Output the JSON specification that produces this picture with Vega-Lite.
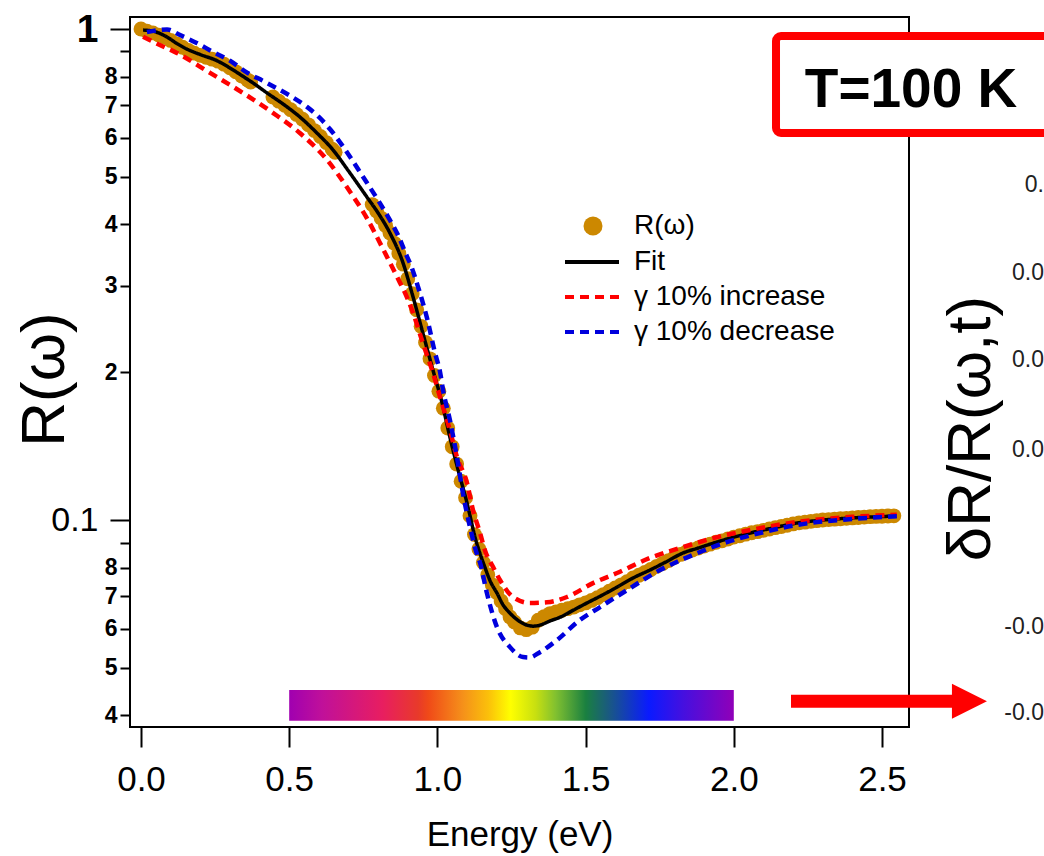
{
  "$schema": "https://vega.github.io/schema/vega-lite/v6.json",
  "autosize": {"type": "none"},
  "width": 779,
  "height": 710,
  "padding": {"left": 130, "top": 17, "right": 135, "bottom": 129},
  "background": "white",
  "config": {
    "view": {"stroke": "black", "strokeWidth": 2},
    "font": "Liberation Sans",
    "axis": {"grid": false, "domain": false},
    "legend": {
      "orient": "none", "title": null, "labelLimit": 0, "padding": 0,
      "labelFont": "Liberation Sans", "labelFontSize": 28, "labelColor": "black"
    }
  },
  "datasets": {
    "obs": [
      {"E":0.00,"R":1.000},{"E":0.02,"R":0.990},{"E":0.04,"R":0.982},{"E":0.06,"R":0.972},{"E":0.08,"R":0.962},{"E":0.10,"R":0.948},{"E":0.12,"R":0.933},{"E":0.14,"R":0.918},{"E":0.16,"R":0.904},{"E":0.18,"R":0.893},{"E":0.20,"R":0.884},{"E":0.22,"R":0.876},{"E":0.24,"R":0.868},{"E":0.26,"R":0.860},{"E":0.28,"R":0.848},{"E":0.30,"R":0.834},{"E":0.32,"R":0.818},{"E":0.34,"R":0.802},{"E":0.36,"R":0.787},{"E":0.37,"R":0.780},
      {"E":0.445,"R":0.727},{"E":0.465,"R":0.713},{"E":0.485,"R":0.699},{"E":0.505,"R":0.685},{"E":0.525,"R":0.670},{"E":0.545,"R":0.655},{"E":0.565,"R":0.638},{"E":0.585,"R":0.621},{"E":0.605,"R":0.604},{"E":0.625,"R":0.587},{"E":0.645,"R":0.569},{"E":0.655,"R":0.561},
      {"E":0.78,"R":0.439},{"E":0.795,"R":0.426},{"E":0.81,"R":0.412},{"E":0.825,"R":0.398},{"E":0.84,"R":0.384},{"E":0.855,"R":0.366},{"E":0.87,"R":0.349},{"E":0.885,"R":0.332},{"E":0.90,"R":0.310},{"E":0.915,"R":0.289},{"E":0.93,"R":0.268},{"E":0.945,"R":0.248},{"E":0.96,"R":0.230},{"E":0.975,"R":0.213},{"E":0.99,"R":0.197},{"E":1.005,"R":0.183},{"E":1.02,"R":0.169},{"E":1.035,"R":0.154},{"E":1.05,"R":0.141},{"E":1.065,"R":0.130},{"E":1.08,"R":0.120},{"E":1.095,"R":0.111},{"E":1.11,"R":0.102},{"E":1.125,"R":0.0934},{"E":1.14,"R":0.0873},{"E":1.155,"R":0.0819},{"E":1.17,"R":0.0774},{"E":1.185,"R":0.0738},{"E":1.20,"R":0.0712},{"E":1.215,"R":0.0684},{"E":1.23,"R":0.0660},{"E":1.245,"R":0.0635},{"E":1.26,"R":0.0620},{"E":1.28,"R":0.0603},{"E":1.30,"R":0.0598},{"E":1.32,"R":0.0605},{"E":1.34,"R":0.0625},{"E":1.36,"R":0.0636},{"E":1.38,"R":0.0645},{"E":1.40,"R":0.0650},{"E":1.42,"R":0.0655},{"E":1.44,"R":0.0660},{"E":1.46,"R":0.0665},{"E":1.48,"R":0.0672},{"E":1.50,"R":0.0678},
      {"E":1.52,"R":0.0686},{"E":1.54,"R":0.0695},{"E":1.56,"R":0.0705},{"E":1.58,"R":0.0716},{"E":1.60,"R":0.0727},{"E":1.62,"R":0.0738},{"E":1.64,"R":0.0749},{"E":1.66,"R":0.0762},{"E":1.68,"R":0.0772},{"E":1.70,"R":0.0782},{"E":1.72,"R":0.0793},{"E":1.74,"R":0.0805},{"E":1.76,"R":0.0816},{"E":1.78,"R":0.0827},{"E":1.80,"R":0.0840},{"E":1.82,"R":0.0851},{"E":1.84,"R":0.0861},{"E":1.86,"R":0.0869},{"E":1.88,"R":0.0877},{"E":1.90,"R":0.0885},{"E":1.92,"R":0.0893},{"E":1.94,"R":0.0901},{"E":1.96,"R":0.0907},{"E":1.98,"R":0.0915},{"E":2.00,"R":0.0923},{"E":2.02,"R":0.0929},{"E":2.04,"R":0.0936},{"E":2.06,"R":0.0942},{"E":2.08,"R":0.0947},{"E":2.10,"R":0.0953},{"E":2.12,"R":0.0959},{"E":2.14,"R":0.0965},{"E":2.16,"R":0.0970},{"E":2.18,"R":0.0976},{"E":2.20,"R":0.0982},{"E":2.22,"R":0.0987},{"E":2.24,"R":0.0990},{"E":2.26,"R":0.0994},{"E":2.28,"R":0.0997},{"E":2.30,"R":0.1000},{"E":2.32,"R":0.1002},{"E":2.34,"R":0.1004},{"E":2.36,"R":0.1006},{"E":2.38,"R":0.1008},{"E":2.40,"R":0.1010},{"E":2.42,"R":0.1012},{"E":2.44,"R":0.1014},{"E":2.46,"R":0.1016},{"E":2.48,"R":0.1017},{"E":2.50,"R":0.1018},{"E":2.52,"R":0.1019},{"E":2.54,"R":0.1020}
    ],
    "fit": [
      {"E":0.007,"R":0.995},{"E":0.04,"R":0.99},{"E":0.088,"R":0.963},{"E":0.12,"R":0.935},{"E":0.155,"R":0.91},{"E":0.2,"R":0.887},{"E":0.256,"R":0.862},{"E":0.3,"R":0.833},{"E":0.344,"R":0.801},{"E":0.38,"R":0.775},{"E":0.425,"R":0.741},{"E":0.48,"R":0.703},{"E":0.536,"R":0.662},{"E":0.59,"R":0.617},{"E":0.648,"R":0.567},{"E":0.7,"R":0.514},{"E":0.762,"R":0.455},{"E":0.8,"R":0.422},{"E":0.84,"R":0.384},{"E":0.884,"R":0.334},{"E":0.918,"R":0.2845},{"E":0.951,"R":0.2403},{"E":0.985,"R":0.202},{"E":1.016,"R":0.173},{"E":1.042,"R":0.1476},{"E":1.07,"R":0.1264},{"E":1.10,"R":0.1083},{"E":1.127,"R":0.0923},{"E":1.16,"R":0.0802},{"E":1.18,"R":0.0747},{"E":1.201,"R":0.0710},{"E":1.22,"R":0.0674},{"E":1.245,"R":0.0646},{"E":1.27,"R":0.0626},{"E":1.302,"R":0.0611},{"E":1.325,"R":0.0608},{"E":1.346,"R":0.0611},{"E":1.38,"R":0.0623},{"E":1.414,"R":0.0634},{"E":1.46,"R":0.0656},{"E":1.505,"R":0.0678},{"E":1.55,"R":0.0700},{"E":1.606,"R":0.0730},{"E":1.66,"R":0.0762},{"E":1.717,"R":0.0791},{"E":1.77,"R":0.0821},{"E":1.829,"R":0.0857},{"E":1.88,"R":0.0877},{"E":1.943,"R":0.0902},{"E":2.0,"R":0.0923},{"E":2.055,"R":0.0941},{"E":2.13,"R":0.0963},{"E":2.213,"R":0.0986},{"E":2.3,"R":0.1000},{"E":2.4,"R":0.1010},{"E":2.55,"R":0.1019}
    ],
    "gamma": [
      {"series":"γ 10% increase","E":0.007,"R":0.964},{"series":"γ 10% increase","E":0.06,"R":0.93},{"series":"γ 10% increase","E":0.121,"R":0.894},{"series":"γ 10% increase","E":0.233,"R":0.814},{"series":"γ 10% increase","E":0.344,"R":0.741},{"series":"γ 10% increase","E":0.445,"R":0.675},{"series":"γ 10% increase","E":0.536,"R":0.614},{"series":"γ 10% increase","E":0.628,"R":0.541},{"series":"γ 10% increase","E":0.695,"R":0.476},{"series":"γ 10% increase","E":0.762,"R":0.412},{"series":"γ 10% increase","E":0.816,"R":0.357},{"series":"γ 10% increase","E":0.864,"R":0.3126},{"series":"γ 10% increase","E":0.897,"R":0.2845},{"series":"γ 10% increase","E":0.918,"R":0.264},{"series":"γ 10% increase","E":0.951,"R":0.2293},{"series":"γ 10% increase","E":0.982,"R":0.202},{"series":"γ 10% increase","E":1.009,"R":0.178},{"series":"γ 10% increase","E":1.042,"R":0.1525},{"series":"γ 10% increase","E":1.066,"R":0.1344},{"series":"γ 10% increase","E":1.10,"R":0.119},{"series":"γ 10% increase","E":1.12,"R":0.1048},{"series":"γ 10% increase","E":1.144,"R":0.0941},{"series":"γ 10% increase","E":1.16,"R":0.0869},{"series":"γ 10% increase","E":1.188,"R":0.0802},{"series":"γ 10% increase","E":1.211,"R":0.0755},{"series":"γ 10% increase","E":1.255,"R":0.0697},{"series":"γ 10% increase","E":1.312,"R":0.0678},{"series":"γ 10% increase","E":1.37,"R":0.0680},{"series":"γ 10% increase","E":1.437,"R":0.0697},{"series":"γ 10% increase","E":1.525,"R":0.0744},{"series":"γ 10% increase","E":1.606,"R":0.0780},{"series":"γ 10% increase","E":1.717,"R":0.0837},{"series":"γ 10% increase","E":1.829,"R":0.0881},{"series":"γ 10% increase","E":1.943,"R":0.0923},{"series":"γ 10% increase","E":2.055,"R":0.0954},{"series":"γ 10% increase","E":2.213,"R":0.0991},{"series":"γ 10% increase","E":2.4,"R":0.1015},{"series":"γ 10% increase","E":2.55,"R":0.1025},
      {"series":"γ 10% decrease","E":0.02,"R":0.986},{"series":"γ 10% decrease","E":0.088,"R":0.998},{"series":"γ 10% decrease","E":0.132,"R":0.972},{"series":"γ 10% decrease","E":0.19,"R":0.935},{"series":"γ 10% decrease","E":0.243,"R":0.898},{"series":"γ 10% decrease","E":0.30,"R":0.862},{"series":"γ 10% decrease","E":0.358,"R":0.815},{"series":"γ 10% decrease","E":0.41,"R":0.785},{"series":"γ 10% decrease","E":0.459,"R":0.757},{"series":"γ 10% decrease","E":0.51,"R":0.727},{"series":"γ 10% decrease","E":0.56,"R":0.694},{"series":"γ 10% decrease","E":0.60,"R":0.662},{"series":"γ 10% decrease","E":0.638,"R":0.625},{"series":"γ 10% decrease","E":0.681,"R":0.577},{"series":"γ 10% decrease","E":0.749,"R":0.500},{"series":"γ 10% decrease","E":0.806,"R":0.442},{"series":"γ 10% decrease","E":0.84,"R":0.408},{"series":"γ 10% decrease","E":0.867,"R":0.3805},{"series":"γ 10% decrease","E":0.891,"R":0.3513},{"series":"γ 10% decrease","E":0.914,"R":0.326},{"series":"γ 10% decrease","E":0.935,"R":0.298},{"series":"γ 10% decrease","E":0.965,"R":0.2578},{"series":"γ 10% decrease","E":0.992,"R":0.2188},{"series":"γ 10% decrease","E":1.009,"R":0.2001},{"series":"γ 10% decrease","E":1.019,"R":0.184},{"series":"γ 10% decrease","E":1.042,"R":0.160},{"series":"γ 10% decrease","E":1.066,"R":0.1344},{"series":"γ 10% decrease","E":1.086,"R":0.1135},{"series":"γ 10% decrease","E":1.11,"R":0.0967},{"series":"γ 10% decrease","E":1.134,"R":0.0850},{"series":"γ 10% decrease","E":1.144,"R":0.0818},{"series":"γ 10% decrease","E":1.167,"R":0.0710},{"series":"γ 10% decrease","E":1.201,"R":0.0605},{"series":"γ 10% decrease","E":1.245,"R":0.0551},{"series":"γ 10% decrease","E":1.289,"R":0.0526},{"series":"γ 10% decrease","E":1.31,"R":0.0525},{"series":"γ 10% decrease","E":1.346,"R":0.0538},{"series":"γ 10% decrease","E":1.404,"R":0.0570},{"series":"γ 10% decrease","E":1.481,"R":0.0626},{"series":"γ 10% decrease","E":1.549,"R":0.0665},{"series":"γ 10% decrease","E":1.64,"R":0.0720},{"series":"γ 10% decrease","E":1.751,"R":0.0791},{"series":"γ 10% decrease","E":1.862,"R":0.0849},{"series":"γ 10% decrease","E":1.977,"R":0.0902},{"series":"γ 10% decrease","E":2.088,"R":0.0941},{"series":"γ 10% decrease","E":2.213,"R":0.0977},{"series":"γ 10% decrease","E":2.4,"R":0.1005},{"series":"γ 10% decrease","E":2.55,"R":0.1018}
    ],
    "rightLabels": [
      {"t":"0.","R":0.4811},{"t":"0.0","R":0.3184},{"t":"0.0","R":0.2118},{"t":"0.0","R":0.1389},{"t":"-0.0","R":0.0605},{"t":"-0.0","R":0.04045}
    ]
  },
  "layer": [
    {
      "data": {"name": "obs"},
      "mark": {"type": "point", "filled": true, "size": 220, "opacity": 1, "strokeWidth": 0},
      "encoding": {
        "x": {
          "field": "E", "type": "quantitative",
          "scale": {"domain": [-0.0371, 2.5911], "nice": false, "zero": false},
          "axis": {
            "values": [0, 0.5, 1, 1.5, 2, 2.5], "format": ".1f",
            "labelFont": "Liberation Sans", "labelFontSize": 35, "labelColor": "black", "labelFlush": false,
            "tickSize": 20, "tickWidth": 2, "tickColor": "black", "labelPadding": 15,
            "title": "Energy (eV)", "titleFont": "Liberation Sans", "titleFontSize": 35, "titleFontWeight": "normal",
            "titleColor": "black", "titleBaseline": "alphabetic", "titleY": 118
          }
        },
        "y": {
          "field": "R", "type": "quantitative",
          "scale": {"type": "log", "domain": [0.03789, 1.0579], "nice": false},
          "axis": {
            "values": [1, 0.9, 0.8, 0.7, 0.6, 0.5, 0.4, 0.3, 0.2, 0.1, 0.09, 0.08, 0.07, 0.06, 0.05, 0.04],
            "labelExpr": "datum.value > 0.95 ? '1' : datum.value == 0.1 ? '0.1' : (datum.value == 0.9 || datum.value == 0.09) ? '' : datum.value > 0.15 ? format(datum.value * 10, '.0f') : format(datum.value * 100, '.0f')",
            "labelOverlap": false, "labelFlush": false, "labelBound": false,
            "labelFont": "Liberation Sans", "labelColor": "black",
            "labelFontSize": {"condition": [{"test": "datum.value > 0.95", "value": 39}, {"test": "datum.value == 0.1", "value": 34}], "value": 23},
            "labelFontWeight": {"condition": {"test": "datum.value == 0.1", "value": "normal"}, "value": "bold"},
            "tickSize": {"condition": {"test": "datum.value > 0.95 || datum.value == 0.1", "value": 20}, "value": 10},
            "labelPadding": {"condition": {"test": "datum.value > 0.95 || datum.value == 0.1", "value": 12}, "value": 3},
            "tickWidth": 2, "tickColor": "black",
            "title": "R(ω)", "titleFont": "Liberation Sans", "titleFontSize": 62, "titleFontWeight": "normal",
            "titleColor": "black", "titleAngle": 270, "titleX": -67, "titleY": 362,
            "titleBaseline": "alphabetic", "titleAlign": "center"
          }
        },
        "fill": {
          "datum": "R(ω)", "type": "nominal",
          "scale": {"domain": ["R(ω)"], "range": ["#cc8800"]},
          "legend": {
            "legendX": 449, "legendY": 195, "symbolType": "circle", "symbolSize": 361,
            "symbolStrokeWidth": 0, "labelOffset": 27, "symbolOpacity": 1
          }
        }
      }
    },
    {
      "data": {"name": "fit"},
      "mark": {"type": "line", "strokeWidth": 3.5, "interpolate": "monotone"},
      "encoding": {
        "x": {"field": "E", "type": "quantitative"},
        "y": {"field": "R", "type": "quantitative"},
        "stroke": {
          "datum": "Fit", "type": "nominal",
          "scale": {"domain": ["Fit", "γ 10% increase", "γ 10% decrease"], "range": ["#000000", "#ff0000", "#0000dd"]},
          "legend": {
            "legendX": 448, "legendY": 231, "symbolType": "M-3,0L3,0", "symbolSize": 324,
            "symbolStrokeWidth": 4, "labelOffset": 28, "rowPadding": 7, "symbolOpacity": 1
          }
        },
        "strokeDash": {
          "datum": "Fit", "type": "nominal",
          "scale": {"domain": ["Fit", "γ 10% increase", "γ 10% decrease"], "range": [[1, 0], [9, 6], [9, 6]]},
          "legend": {
            "legendX": 448, "legendY": 231, "symbolType": "M-3,0L3,0", "symbolSize": 324,
            "symbolStrokeWidth": 4, "labelOffset": 28, "rowPadding": 7, "symbolOpacity": 1
          }
        }
      }
    },
    {
      "data": {"name": "gamma"},
      "mark": {"type": "line", "strokeWidth": 4.5, "interpolate": "monotone"},
      "encoding": {
        "x": {"field": "E", "type": "quantitative"},
        "y": {"field": "R", "type": "quantitative"},
        "stroke": {
          "field": "series", "type": "nominal", "title": null,
          "legend": {
            "legendX": 448, "legendY": 231, "symbolType": "M-3,0L3,0", "symbolSize": 324,
            "symbolStrokeWidth": 4, "labelOffset": 28, "rowPadding": 7, "symbolOpacity": 1
          }
        },
        "strokeDash": {
          "field": "series", "type": "nominal", "title": null,
          "legend": {
            "legendX": 448, "legendY": 231, "symbolType": "M-3,0L3,0", "symbolSize": 324,
            "symbolStrokeWidth": 4, "labelOffset": 28, "rowPadding": 7, "symbolOpacity": 1
          }
        }
      }
    },
    {
      "data": {"values": [{}]},
      "mark": {
        "type": "rect",
        "fill": {"x1": 0, "y1": 0, "x2": 1, "y2": 0, "gradient": "linear", "stops": [
          {"offset": 0, "color": "#a000b0"},
          {"offset": 0.074, "color": "#c0109a"},
          {"offset": 0.21, "color": "#e81e60"},
          {"offset": 0.29, "color": "#e83a2a"},
          {"offset": 0.313, "color": "#f04a18"},
          {"offset": 0.39, "color": "#f5901a"},
          {"offset": 0.448, "color": "#fbc00a"},
          {"offset": 0.498, "color": "#ffff00"},
          {"offset": 0.554, "color": "#c8e010"},
          {"offset": 0.6, "color": "#80c030"},
          {"offset": 0.667, "color": "#1a8040"},
          {"offset": 0.718, "color": "#1a5a80"},
          {"offset": 0.809, "color": "#0a1aff"},
          {"offset": 0.885, "color": "#4410e0"},
          {"offset": 1, "color": "#9000b8"}
        ]}
      },
      "encoding": {
        "x": {"datum": 0.5}, "x2": {"datum": 2.0},
        "y": {"datum": 0.04506}, "y2": {"datum": 0.03902}
      }
    },
    {
      "data": {"values": [{}]},
      "mark": {"type": "rect", "fill": "white", "stroke": "#ff0000", "strokeWidth": 8, "cornerRadius": 5},
      "encoding": {
        "x": {"datum": 2.1424}, "x2": {"datum": 3.3},
        "y": {"datum": 0.9677}, "y2": {"datum": 0.6141}
      }
    },
    {
      "data": {"values": [{}]},
      "mark": {"type": "text", "text": "T=100 K", "font": "Liberation Sans", "fontWeight": "bold", "fontSize": 55, "align": "center", "baseline": "alphabetic", "color": "black"},
      "encoding": {"x": {"datum": 2.598}, "y": {"datum": 0.6937}}
    },
    {
      "data": {"values": [{}]},
      "mark": {"type": "rule", "color": "#ff0000", "strokeWidth": 13, "strokeCap": "butt"},
      "encoding": {"x": {"datum": 2.193}, "x2": {"datum": 2.737}, "y": {"datum": 0.04274}}
    },
    {
      "data": {"values": [{}]},
      "mark": {"type": "point", "shape": "M-1,-1L1,0L-1,1Z", "filled": true, "size": 1225, "color": "#ff0000", "opacity": 1, "strokeWidth": 0},
      "encoding": {"x": {"datum": 2.795}, "y": {"datum": 0.04274}}
    },
    {
      "data": {"values": [{}]},
      "mark": {"type": "text", "text": "δR/R(ω,t)", "font": "Liberation Sans", "fontSize": 62, "angle": 270, "align": "center", "baseline": "alphabetic", "color": "black"},
      "encoding": {"x": {"datum": 2.8644}, "y": {"datum": 0.1536}}
    },
    {
      "data": {"name": "rightLabels"},
      "mark": {"type": "text", "font": "Liberation Sans", "fontSize": 23, "align": "right", "baseline": "middle", "color": "#222222"},
      "encoding": {
        "x": {"datum": 3.0466},
        "y": {"field": "R", "type": "quantitative"},
        "text": {"field": "t"}
      }
    }
  ]
}
